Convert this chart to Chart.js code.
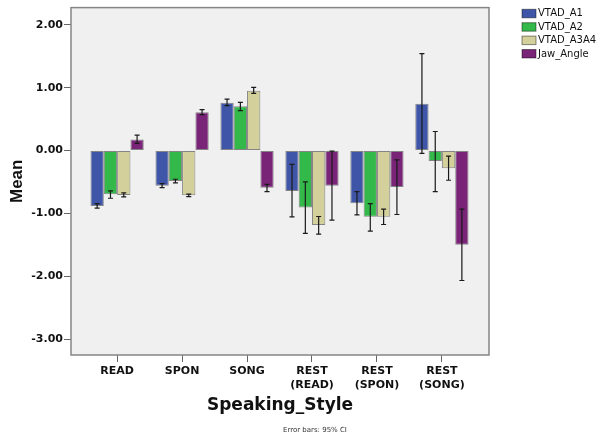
<!DOCTYPE html>
<html>
<head>
<meta charset="utf-8">
<script src="https://cdn.jsdelivr.net/npm/chart.js@4.4.0/dist/chart.umd.min.js"></script>
<style>
    html, body { margin: 0; padding: 0; background: #fff; }
    #wrap { width: 613px; height: 436px; }
</style>
</head>
<body>
<div id="wrap"><canvas id="grafico" width="613" height="436"></canvas></div>
<script>
// ---------------- Dados ----------------
const categorias = ['READ', 'SPON', 'SONG', 'REST (READ)', 'REST (SPON)', 'REST (SONG)'];
const rotulosX = [['READ'], ['SPON'], ['SONG'], ['REST', '(READ)'], ['REST', '(SPON)'], ['REST', '(SONG)']];
const ticksY = [2, 1, 0, -1, -2, -3];

const vtadA1      = [-0.880, -0.558, 0.764, -0.642, -0.837, 0.748];
const vtadA1Inf   = [-0.916, -0.590, 0.716, -1.054, -1.022, -0.044];
const vtadA1Sup   = [-0.843, -0.526, 0.821, -0.219, -0.653, 1.545];

const vtadA2      = [-0.694, -0.483, 0.705, -0.906, -1.054, -0.166];
const vtadA2Inf   = [-0.758, -0.515, 0.637, -1.319, -1.281, -0.653];
const vtadA2Sup   = [-0.642, -0.456, 0.769, -0.499, -0.843, 0.304];

const vtadA3A4    = [-0.705, -0.710, 0.954, -1.185, -1.054, -0.282];
const vtadA3A4Inf = [-0.737, -0.732, 0.911, -1.328, -1.176, -0.472];
const vtadA3A4Sup = [-0.674, -0.694, 1.006, -1.049, -0.932, -0.087];

const jawAngle    = [0.177, 0.610, -0.590, -0.558, -0.578, -1.498];
const jawAngleInf = [0.114, 0.574, -0.653, -1.106, -1.017, -2.068];
const jawAngleSup = [0.246, 0.653, -0.536, -0.008, -0.146, -0.932];

const series = [
    { label: 'VTAD_A1',   dados: vtadA1,   inf: vtadA1Inf,   sup: vtadA1Sup,   cor: '#3f55a8' },
    { label: 'VTAD_A2',   dados: vtadA2,   inf: vtadA2Inf,   sup: vtadA2Sup,   cor: '#33b94a' },
    { label: 'VTAD_A3A4', dados: vtadA3A4, inf: vtadA3A4Inf, sup: vtadA3A4Sup, cor: '#d4d09c' },
    { label: 'Jaw_Angle', dados: jawAngle, inf: jawAngleInf, sup: jawAngleSup, cor: '#7a2478' }
];

// ---------------- Plugins ----------------
const fundoMoldura = {
    id: 'fundoMoldura',
    beforeDraw(chart) {
        const { ctx, chartArea: a } = chart;
        ctx.save();
        ctx.fillStyle = '#f0f0f0';
        ctx.fillRect(a.left, a.top, a.right - a.left, a.bottom - a.top);
        ctx.restore();
    },
    afterDraw(chart) {
        const { ctx, chartArea: a } = chart;
        ctx.save();
        ctx.strokeStyle = '#858585';
        ctx.lineWidth = 1.5;
        ctx.strokeRect(a.left, a.top, a.right - a.left, a.bottom - a.top);
        ctx.restore();
    }
};

const barrasErro = {
    id: 'barrasErro',
    afterDatasetsDraw(chart) {
        const { ctx } = chart;
        const y = chart.scales.y;
        ctx.save();
        ctx.strokeStyle = '#1a1a1a';
        ctx.lineWidth = 1.2;
        series.forEach((s, d) => {
            chart.getDatasetMeta(d).data.forEach((bar, i) => {
                const yi = y.getPixelForValue(s.inf[i]);
                const ys = y.getPixelForValue(s.sup[i]);
                ctx.beginPath();
                ctx.moveTo(bar.x, yi); ctx.lineTo(bar.x, ys);
                ctx.moveTo(bar.x - 2.5, yi); ctx.lineTo(bar.x + 2.5, yi);
                ctx.moveTo(bar.x - 2.5, ys); ctx.lineTo(bar.x + 2.5, ys);
                ctx.stroke();
            });
        });
        ctx.restore();
    }
};

const legendaRodape = {
    id: 'legendaRodape',
    afterDraw(chart) {
        const { ctx } = chart;
        ctx.save();
        chart.data.datasets.forEach((ds, i) => {
            const top = 9.3 + i * 13.4;
            ctx.fillStyle = ds.backgroundColor;
            ctx.fillRect(522, top, 14, 8.5);
            ctx.strokeStyle = 'rgba(0,0,0,0.45)';
            ctx.lineWidth = 1;
            ctx.strokeRect(522, top, 14, 8.5);
            ctx.fillStyle = '#111';
            ctx.font = '10px "DejaVu Sans"';
            ctx.textBaseline = 'middle';
            ctx.textAlign = 'left';
            ctx.fillText(ds.label, 538, top + 4.6);
        });
        ctx.font = '7px "DejaVu Sans"';
        ctx.fillStyle = '#333';
        ctx.textAlign = 'center';
        ctx.textBaseline = 'middle';
        ctx.fillText('Error bars: 95% CI', 315, 430);
        ctx.restore();
    }
};

// ---------------- Gráfico ----------------
new Chart(document.getElementById('grafico'), {
    type: 'bar',
    data: {
        datasets: series.map(s => ({
            label: s.label,
            data: s.dados.map((v, i) => ({ x: i, y: v })),
            backgroundColor: s.cor,
            borderColor: 'rgba(0,0,0,0.45)',
            borderWidth: 1,
            borderSkipped: false,
            categoryPercentage: 0.82,
            barPercentage: 1
        }))
    },
    options: {
        responsive: false,
        animation: false,
        layout: { padding: { top: 6, right: 124, left: 0, bottom: 0 } },
        plugins: { legend: { display: false }, tooltip: { enabled: false } },
        scales: {
            x: {
                type: 'linear',
                bounds: 'data',
                offset: false,
                min: -0.71,
                max: 5.725,
                afterBuildTicks: s => { s.ticks = categorias.map((c, i) => ({ value: i })); },
                afterFit: s => { s.height = 81; },
                ticks: {
                    callback: v => rotulosX[v] || '',
                    font: { family: 'DejaVu Sans', size: 11, weight: 'bold' },
                    color: '#111',
                    padding: 3,
                    maxRotation: 0,
                    autoSkip: false
                },
                grid: { offset: false, drawOnChartArea: false, tickLength: 7, color: '#666' },
                border: { display: false },
                title: {
                    display: true,
                    text: 'Speaking_Style',
                    font: { family: 'DejaVu Sans', size: 17, weight: 'bold' },
                    color: '#111',
                    padding: { top: 0, bottom: 20 }
                }
            },
            y: {
                bounds: 'data',
                min: -3.254,
                max: 2.277,
                afterBuildTicks: s => { s.ticks = ticksY.map(v => ({ value: v })); },
                afterFit: s => { s.width = 71; },
                ticks: {
                    callback: v => v.toFixed(2),
                    font: { family: 'DejaVu Sans', size: 11, weight: 'bold' },
                    color: '#111',
                    padding: 1
                },
                grid: { drawOnChartArea: false, tickLength: 7, color: '#666' },
                border: { display: false },
                title: {
                    display: true,
                    text: 'Mean',
                    font: { family: 'Liberation Sans', size: 17, weight: 'bold' },
                    color: '#111',
                    padding: { top: 7, bottom: 0 }
                }
            }
        }
    },
    plugins: [fundoMoldura, barrasErro, legendaRodape]
});
</script>
</body>
</html>
